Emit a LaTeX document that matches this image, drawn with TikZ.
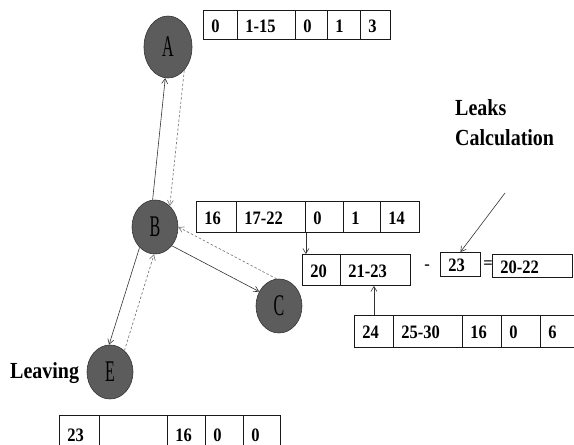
\documentclass[tikz,border=0pt]{standalone}
\usepackage{fontspec}
\setmainfont{Liberation Serif}
\usetikzlibrary{shapes.geometric,arrows.meta}

% slightly tall lettering
\newcommand\tallt[1]{\scalebox{1}[1.15]{#1}}
% one table cell: name, left, top, right, bottom, text
\newcommand\tabcell[6]{%
  \pgfmathsetmacro\tcellw{#4-#2-16}%
  \pgfmathsetmacro\tcellh{#5-#3}%
  \node[cell, text width=\tcellw pt, minimum height=\tcellh pt] (#1) at (#2,#3) {\tallt{#6}};%
}

\tikzset{
  cell/.style={draw=black!90, line width=0.9pt, anchor=north west, inner xsep=8pt,
    inner ysep=0pt, text height=14.5pt, text depth=0pt, align=left,
    font=\bfseries\fontsize{16.5}{18}\selectfont},
  station/.style={ellipse, draw=black!80, line width=0.6pt, fill=black!64,
    minimum width=46pt, minimum height=54pt, inner sep=0pt,
    font=\fontsize{20}{20}\selectfont},
  flow/.style={draw=black!80, line width=0.6pt, -{Straight Barb[length=5pt,width=6pt]}},
  back/.style={draw=black!50, line width=0.7pt, dash pattern=on 2.5pt off 2pt,
    -{Straight Barb[length=5pt,width=6pt]}},
  lbl/.style={font=\bfseries\fontsize{20}{30}\selectfont, inner sep=0pt},
  sign/.style={font=\bfseries\fontsize{16.5}{18}\selectfont, inner sep=0pt},
}

\begin{document}
\begin{tikzpicture}[x=1pt,y=-1pt]
\useasboundingbox (0,0) rectangle (574,445);
\clip (0,0) rectangle (574,445);

% stations
\node[station, minimum width=48pt, minimum height=62pt] (A) at (168,47) {\scalebox{0.8}[1.5]{A}};
\node[station] (B) at (155,227) {\scalebox{0.8}[1.5]{B}};
\node[station] (C) at (279,306) {\scalebox{0.8}[1.5]{C}};
\node[station] (E) at (110,372) {\scalebox{0.8}[1.5]{E}};

% forward and backward links
\draw[flow] (B.95) -- (A.265);
\draw[back] (A.305) -- (B.55);
\draw[flow] (B.312) -- (C.144);
\draw[back] (C.95) -- (B.0);
\draw[flow] (B.233) -- (E.92);
\draw[back] (E.56) -- (B.268);

% record of A
\tabcell{ta1}{203}{10}{237}{39}{0}
\tabcell{ta2}{237}{10}{295}{39}{1-15}
\tabcell{ta3}{295}{10}{327}{39}{0}
\tabcell{ta4}{327}{10}{360}{39}{1}
\tabcell{ta5}{360}{10}{390}{39}{3}

% record of B
\tabcell{tb1}{196}{201}{236}{232}{16}
\tabcell{tb2}{236}{201}{305}{232}{17-22}
\tabcell{tb3}{305}{201}{343}{232}{0}
\tabcell{tb4}{343}{201}{380}{232}{1}
\tabcell{tb5}{380}{201}{419}{232}{14}

% merged range
\tabcell{m1}{302}{254}{340}{285}{20}
\tabcell{m2}{340}{254}{410}{285}{21-23}
\node[sign] (minus) at (427,267) {-};
\tabcell{k1}{440}{252}{480}{276}{23}
\node[sign] (equals) at (488,265) {=};
\tabcell{r1}{492}{254}{572}{277}{20-22}

% record of C
\tabcell{br1}{354}{315}{393}{347}{24}
\tabcell{br2}{393}{315}{462}{347}{25-30}
\tabcell{br3}{462}{315}{501}{347}{16}
\tabcell{br4}{501}{315}{540}{347}{0}
\tabcell{br5}{540}{315}{592}{347}{6}

% record of E
\tabcell{bt1}{59}{415}{99}{452}{23}
\tabcell{bt2}{99}{415}{167}{452}{}
\tabcell{bt3}{167}{415}{205}{452}{16}
\tabcell{bt4}{205}{415}{243}{452}{0}
\tabcell{bt5}{243}{415}{280}{452}{0}

% table links
\draw[flow] (tb2.south east) -- (tb2.south east |- m1.north);
\draw[flow] (br1.north) -- (br1.north |- m2.south);

% labels
\node[lbl, anchor=base west, align=left] (leaks) at (455,145) {\tallt{Leaks}\\\tallt{Calculation}};
\coordinate (lkfoot) at (505,193);
\draw[flow] (lkfoot) -- (k1.north);
\node[lbl, anchor=base west] (leaving) at (10,378) {\tallt{Leaving}};
\end{tikzpicture}
\end{document}
